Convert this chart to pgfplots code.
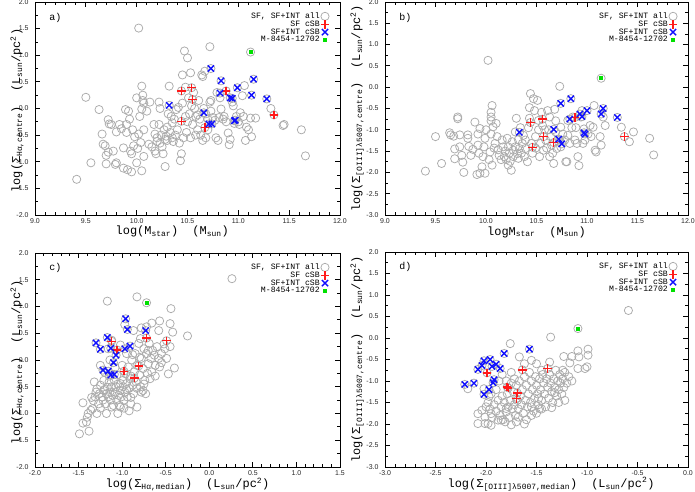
\documentclass[border=0pt]{standalone}
\usepackage{fontspec}
\setmainfont{Liberation Sans}
\setmonofont{Liberation Mono}
\usepackage{pgfplots}
\pgfplotsset{compat=1.18}
\definecolor{cgray}{HTML}{ABABAB}
\definecolor{cred}{HTML}{FF1A1A}
\definecolor{cblue}{HTML}{1010FF}
\definecolor{cgreen}{HTML}{00E000}

\newcommand{\sub}[1]{\textsubscript{#1}}
\newcommand{\lsun}{(L\sub{sun}/pc\textsuperscript{2})}

% marks that set their own colour each time they are drawn
\pgfdeclareplotmark{rplus}{%
  \pgfsetstrokecolor{cred}\pgfsetlinewidth{1.45bp}%
  \pgfpathmoveto{\pgfqpoint{-4.2bp}{0bp}}\pgfpathlineto{\pgfqpoint{4.2bp}{0bp}}%
  \pgfpathmoveto{\pgfqpoint{0bp}{-4.2bp}}\pgfpathlineto{\pgfqpoint{0bp}{4.2bp}}%
  \pgfusepathqstroke}
\pgfdeclareplotmark{bcross}{%
  \pgfsetstrokecolor{cblue}\pgfsetlinewidth{1.4bp}%
  \pgfpathmoveto{\pgfqpoint{-3.1bp}{-3.1bp}}\pgfpathlineto{\pgfqpoint{3.1bp}{3.1bp}}%
  \pgfpathmoveto{\pgfqpoint{-3.1bp}{3.1bp}}\pgfpathlineto{\pgfqpoint{3.1bp}{-3.1bp}}%
  \pgfusepathqstroke}
\pgfdeclareplotmark{gsq}{%
  \pgfsetfillcolor{cgreen}%
  \pgfpathrectangle{\pgfqpoint{-2bp}{-2bp}}{\pgfqpoint{4bp}{4bp}}%
  \pgfusepathqfill}
\pgfdeclareplotmark{gcirc}{%
  \pgfsetstrokecolor{cgray}\pgfsetlinewidth{0.75bp}%
  \pgfpathcircle{\pgfpointorigin}{4.1bp}%
  \pgfusepathqstroke}

\pgfplotsset{
  panel/.style={
    scale only axis,
    axis line style={line width=0.9bp},
    tick align=inside,
    major tick length=5bp,
    minor tick length=2.6bp,
    every tick/.style={black,line width=0.8bp},
    tick label style={font=\fontsize{7}{7}\selectfont,text=black!85},
    yticklabel style={xshift=-3bp},
    label style={font=\ttfamily\fontsize{12}{12}\selectfont},
    legend style={draw=none,fill=none,at={(rel axis cs:0.975,0.965)},anchor=north east,
      font=\ttfamily\fontsize{8.2}{8.2}\selectfont,row sep=-1.2bp,
      nodes={inner sep=1bp}},
    legend cell align=right,
    legend plot pos=right,
    legend image code/.code={\draw[##1] plot coordinates {(0.26cm,0cm)};},
  },
  allpts/.style={only marks,mark=gcirc,draw=cgray},
  redpts/.style={only marks,mark=rplus,draw=cred},
  bluepts/.style={only marks,mark=bcross,draw=cblue},
  greenpts/.style={only marks,mark=gsq,draw=cgreen,fill=cgreen},
}

% panel a: log Mstar vs log Sigma_Halpha,centre
\pgfplotstableread{
x y
9.41 -1.33
9.50 0.21
9.55 -1.02
9.63 -0.02
9.66 -0.48
9.67 -0.67
9.69 -0.70
9.70 -1.04
9.70 -0.88
9.72 -0.21
9.72 -0.82
9.73 -0.29
9.75 -0.30
9.77 -0.80
9.79 -1.05
9.80 -1.02
9.80 -0.44
9.83 -0.30
9.85 -0.38
9.87 -0.74
9.87 -1.12
9.89 -0.02
9.90 -0.30
9.90 -0.45
9.91 -1.15
9.92 -0.05
9.93 -0.20
9.94 -0.80
9.95 -1.19
9.95 -0.85
9.96 -0.40
9.97 -0.70
9.98 -0.53
10.00 0.20
10.00 -1.02
10.01 -0.75
10.02 1.51
10.02 -0.48
10.03 -0.15
10.04 -0.64
10.05 -1.17
10.05 0.42
10.05 -0.01
10.06 0.25
10.06 0.15
10.07 -0.40
10.07 0.10
10.07 -0.90
10.10 -0.05
10.12 -0.67
10.13 0.12
10.15 -0.72
10.17 -0.30
10.18 -0.80
10.18 -0.48
10.19 -0.85
10.20 -0.55
10.20 -0.62
10.22 -0.30
10.22 0.12
10.23 0.00
10.23 -0.65
10.24 -0.50
10.25 -0.72
10.26 -0.85
10.27 -0.40
10.28 -1.09
10.28 -0.58
10.29 -0.52
10.30 -0.60
10.30 -0.35
10.31 -0.10
10.32 0.42
10.33 -0.45
10.34 -0.15
10.35 -0.27
10.35 -0.55
10.36 -0.62
10.37 -0.20
10.38 -0.50
10.39 -0.02
10.40 -0.40
10.41 0.02
10.42 -0.65
10.43 -0.98
10.44 -0.85
10.45 0.63
10.45 0.10
10.46 -0.55
10.47 1.08
10.48 0.40
10.48 -0.15
10.49 -0.45
10.50 0.95
10.50 -0.25
10.51 0.20
10.52 -0.10
10.53 0.67
10.53 -0.55
10.54 0.05
10.55 -0.30
10.56 0.30
10.57 0.00
10.58 -0.50
10.58 -0.15
10.60 -0.12
10.60 -0.40
10.61 0.15
10.62 -0.20
10.63 -0.50
10.64 0.63
10.65 0.60
10.65 -0.60
10.66 0.00
10.67 0.70
10.68 -0.55
10.68 -0.10
10.70 -0.20
10.70 -0.40
10.72 1.16
10.72 0.12
10.73 -0.05
10.73 0.15
10.75 -0.17
10.77 -0.22
10.78 -0.55
10.79 0.30
10.80 -0.60
10.81 -0.17
10.82 0.20
10.83 -0.01
10.85 -0.20
10.86 -0.15
10.88 -0.25
10.90 -0.46
10.91 -0.68
10.92 -0.58
10.94 0.12
10.95 0.05
10.96 -0.28
10.98 -0.15
11.00 -0.25
11.01 -0.30
11.02 -0.08
11.04 0.24
11.05 -0.15
11.06 0.43
11.07 -0.60
11.08 -0.35
11.10 -0.40
11.12 -0.18
11.13 -0.53
11.17 -0.18
11.32 0.00
11.44 -0.32
11.45 -0.30
11.62 -0.40
11.66 -0.89
}\allA
\pgfplotstableread{
x y
10.44 0.33
10.44 -0.24
10.54 0.39
10.55 0.17
10.67 -0.36
10.88 0.33
11.35 -0.12
}\redA
\pgfplotstableread{
x y
10.32 0.06
10.66 -0.08
10.71 -0.29
10.74 -0.29
10.73 0.75
10.82 0.29
10.83 0.52
10.92 0.20
10.94 0.19
10.96 -0.23
10.97 -0.22
10.99 0.39
11.13 0.25
11.15 0.55
11.28 0.18
}\blueA
\pgfplotstableread{
x y
11.12 1.06
}\greenA

% panel b: log Mstar vs log Sigma_[OIII],centre
\pgfplotstableread{
x y
9.40 -1.97
9.50 -1.16
9.56 -1.79
9.64 -1.07
9.65 -1.12
9.68 -1.15
9.69 -1.45
9.69 -1.68
9.72 -0.74
9.72 -0.70
9.74 -1.12
9.74 -1.40
9.76 -1.60
9.77 -1.76
9.78 -2.00
9.82 -1.12
9.82 -1.20
9.83 -1.39
9.85 -1.60
9.87 -1.46
9.89 -0.82
9.91 -2.05
9.92 -1.10
9.92 -1.36
9.93 -1.55
9.94 -0.97
9.94 -2.02
9.96 -1.87
9.97 -1.63
9.98 -1.40
9.99 -1.20
9.99 -2.02
10.00 -1.00
10.02 0.63
10.03 -1.70
10.04 -1.52
10.05 -0.59
10.05 -0.70
10.05 -0.79
10.05 -1.10
10.06 -1.83
10.06 -0.43
10.07 -0.93
10.08 -1.43
10.09 -1.32
10.10 -0.85
10.11 -1.16
10.12 -1.47
10.13 -1.60
10.15 -1.70
10.16 -1.24
10.17 -1.40
10.18 -1.63
10.19 -1.50
10.20 -1.70
10.21 -1.20
10.22 -1.83
10.22 -1.40
10.23 -1.55
10.24 -1.74
10.25 -1.95
10.26 -1.28
10.27 -1.48
10.27 -1.63
10.29 -1.05
10.29 -1.40
10.30 -0.73
10.31 -1.56
10.32 -1.23
10.32 -1.67
10.33 -1.44
10.34 -0.95
10.35 -1.55
10.36 -1.32
10.37 -1.13
10.38 -1.63
10.39 -1.44
10.39 -1.24
10.41 -1.75
10.42 -0.95
10.43 -0.48
10.43 -0.73
10.44 -0.15
10.45 -1.32
10.46 -1.55
10.47 -0.27
10.48 -0.55
10.49 -1.16
10.49 -1.43
10.51 -0.31
10.52 -0.78
10.52 -1.00
10.53 -1.63
10.54 -1.32
10.55 -0.59
10.56 -0.90
10.57 -1.48
10.58 -1.00
10.59 -1.24
10.60 -1.43
10.61 -0.55
10.62 -1.00
10.63 -1.63
10.63 -0.70
10.64 -1.16
10.65 -1.36
10.66 -1.55
10.67 -1.79
10.68 -0.52
10.69 -0.79
10.69 -1.05
10.70 -1.44
10.73 0.02
10.73 -1.24
10.74 -1.40
10.74 -0.94
10.76 -1.10
10.78 -1.24
10.79 -1.75
10.80 -1.75
10.81 -0.78
10.81 -1.13
10.83 -1.32
10.85 -0.95
10.86 -0.70
10.88 -1.24
10.89 -0.95
10.90 -1.32
10.91 -1.63
10.92 -1.84
10.94 -0.70
10.95 -0.55
10.96 -1.32
10.97 -0.98
10.98 -1.24
11.01 -1.10
11.03 -0.90
11.04 -1.16
11.06 -0.94
11.07 -0.43
11.08 -1.48
11.09 -1.52
11.13 -1.16
11.14 -1.36
11.16 -0.70
11.18 -0.90
11.34 -0.94
11.42 -1.28
11.46 -1.05
11.62 -1.20
11.66 -1.59
}\allB
\pgfplotstableread{
x y
10.44 -0.83
10.46 -1.41
10.56 -0.75
10.57 -1.16
10.67 -1.30
10.88 -0.71
11.37 -1.16
}\redB
\pgfplotstableread{
x y
10.33 -1.06
10.67 -0.99
10.72 -1.22
10.75 -1.33
10.74 -0.38
10.83 -0.75
10.84 -0.27
10.93 -0.63
10.95 -0.69
10.97 -1.07
10.98 -1.10
11.00 -0.55
11.14 -0.63
11.16 -0.50
11.30 -0.71
}\blueB
\pgfplotstableread{
x y
11.14 0.21
}\greenB

% panel c: log Sigma_Halpha,median vs log Sigma_Halpha,centre
\pgfplotstableread{
x y
-1.49 -1.38
-1.38 -1.33
-1.45 -1.18
-1.41 -1.16
-1.40 -1.07
-1.45 -0.80
-1.39 -1.00
-1.36 -0.94
-1.34 -0.91
-1.29 -1.00
-1.33 -0.76
-1.31 -0.69
-1.27 -0.82
-1.32 -0.41
-1.29 -0.54
-1.26 -0.63
-1.25 -0.47
-1.23 -0.69
-1.22 -0.75
-1.21 -0.57
-1.21 -0.38
-1.19 -0.82
-1.18 -0.63
-1.17 -0.51
-1.16 -0.69
-1.15 -0.41
-1.14 -0.60
-1.13 -0.75
-1.12 -0.50
-1.11 -0.66
-1.10 -0.85
-1.09 -0.38
-1.08 -0.60
-1.07 -0.50
-1.06 -0.75
-1.06 -0.28
-1.04 -0.66
-1.03 -0.85
-1.02 -0.44
-1.02 -0.57
-1.01 -0.69
-0.99 -0.38
-0.99 -0.50
-0.98 -0.75
-0.97 -0.60
-0.96 -0.26
-0.95 -0.44
-0.94 -0.69
-0.93 -0.13
-0.92 -0.53
-0.91 -0.35
-0.90 -0.82
-0.89 0.00
-0.88 -0.47
-0.87 -0.63
-0.86 -0.22
-0.85 0.12
-0.84 -0.41
-0.83 -0.53
-0.83 -0.10
-0.81 0.31
-0.80 -0.28
-0.79 0.40
-0.79 -0.50
-0.78 0.03
-0.76 -0.57
-0.76 -0.16
-0.75 0.21
-0.74 -0.38
-0.73 -0.63
-0.72 0.12
-0.71 -0.25
-0.70 -0.07
-0.69 0.31
-0.67 0.03
-0.66 -0.22
-0.65 0.18
-0.63 0.09
-0.62 -0.10
-0.60 0.25
-0.58 0.03
-0.57 -0.13
-0.55 0.12
-0.51 0.21
-0.49 0.03
-0.47 -0.26
-0.45 0.25
-0.40 -0.15
-0.45 0.68
-0.44 0.96
-0.57 0.73
-0.66 0.69
-0.72 0.62
-0.78 0.60
-0.83 1.18
-1.17 1.10
-0.25 0.45
0.26 1.52
-1.25 -0.10
-1.12 0.37
-1.16 0.21
-1.02 0.28
-0.97 0.66
-0.87 0.55
-0.95 0.12
-1.14 0.00
-1.08 -0.14
-1.20 -0.23
-0.78 -0.60
-0.83 -0.88
-1.02 -0.88
-1.12 -0.88
-1.20 -0.55
-1.15 -0.30
-1.05 -0.45
-0.95 -0.55
-0.90 -0.30
-1.00 -0.10
-0.88 0.10
-0.90 -0.70
-1.30 -0.60
-1.35 -0.70
-1.25 -0.90
-1.18 -1.00
-1.05 -1.00
-0.92 -0.95
-0.98 -0.90
-0.75 -0.45
-0.62 -0.30
-0.55 -0.05
-0.68 -0.35
-0.80 0.05
-0.70 0.18
-0.52 0.30
-0.42 0.52
-0.58 0.55
}\allC
\pgfplotstableread{
x y
-1.12 0.35
-1.06 0.19
-0.98 -0.21
-0.86 -0.34
-0.81 -0.11
-0.72 0.41
-0.49 0.36
}\redC
\pgfplotstableread{
x y
-1.30 0.32
-1.25 0.20
-1.17 0.42
-1.13 0.22
-1.07 0.09
-1.10 -0.05
-1.22 -0.19
-1.16 -0.21
-1.13 -0.28
-1.09 -0.27
-0.96 0.77
-0.94 0.57
-0.97 0.21
-0.91 0.26
-0.73 0.55
}\blueC
\pgfplotstableread{
x y
-0.72 1.07
}\greenC

% panel d: log Sigma_[OIII],median vs log Sigma_[OIII],centre
\pgfplotstableread{
x y
-0.59 0.64
-1.36 0.02
-1.76 -0.13
-1.67 -0.44
-1.55 -0.52
-1.23 -0.43
-1.15 -0.43
-1.09 -0.30
-0.99 -0.26
-0.99 -0.40
-1.08 -0.44
-1.17 -0.58
-1.09 -0.71
-1.02 -0.71
-1.00 -0.67
-1.24 -0.75
-1.37 -0.56
-2.02 -1.18
-1.97 -1.36
-2.08 -1.76
-2.08 -1.99
-2.01 -1.99
-1.95 -2.03
-2.01 -1.84
-1.95 -1.76
-1.88 -1.91
-1.81 -1.95
-1.68 -1.84
-2.04 -1.68
-1.92 -1.55
-1.90 -1.70
-1.88 -1.45
-1.86 -1.80
-1.85 -1.60
-1.84 -1.35
-1.83 -1.90
-1.82 -1.50
-1.80 -1.72
-1.79 -1.30
-1.78 -1.60
-1.77 -1.85
-1.76 -1.45
-1.75 -1.05
-1.74 -1.65
-1.73 -1.25
-1.72 -1.55
-1.71 -1.80
-1.70 -1.10
-1.69 -1.45
-1.68 -1.65
-1.67 -1.00
-1.66 -1.35
-1.65 -1.55
-1.64 -1.20
-1.63 -1.75
-1.62 -0.90
-1.61 -1.45
-1.60 -1.10
-1.59 -1.60
-1.58 -1.30
-1.57 -0.80
-1.56 -1.50
-1.55 -1.00
-1.54 -1.20
-1.53 -1.70
-1.52 -1.40
-1.51 -0.90
-1.50 -1.10
-1.49 -1.30
-1.48 -1.55
-1.47 -0.95
-1.46 -1.20
-1.45 -1.45
-1.44 -0.85
-1.43 -1.05
-1.42 -1.30
-1.41 -1.60
-1.40 -0.95
-1.39 -1.15
-1.38 -1.40
-1.37 -0.85
-1.36 -1.05
-1.35 -1.25
-1.34 -1.50
-1.33 -0.95
-1.32 -1.15
-1.31 -0.75
-1.30 -1.35
-1.29 -1.00
-1.28 -1.20
-1.27 -0.85
-1.26 -1.05
-1.25 -1.30
-1.24 -0.95
-1.23 -1.15
-1.22 -0.80
-1.20 -1.05
-1.18 -0.90
-1.15 -1.00
-1.22 -1.45
-1.95 -1.30
-1.98 -1.50
-1.96 -1.65
-2.00 -1.60
-1.94 -1.85
-1.90 -1.20
-1.87 -1.00
-1.84 -0.85
-1.80 -1.00
-1.75 -0.80
-1.72 -0.95
-1.60 -1.90
-1.55 -1.80
-1.50 -1.75
-1.45 -1.65
-1.62 -2.00
-1.75 -2.02
-1.70 -1.95
-1.35 -1.62
-1.28 -1.50
-1.45 -0.75
-1.50 -0.60
-1.62 -0.60
-1.32 -1.27
-1.48 -1.41
-1.47 -1.64
-1.55 -1.60
-1.80 -1.64
-1.85 -1.91
-1.98 -1.99
-2.18 -1.18
}\allD
\pgfplotstableread{
x y
-1.99 -0.81
-1.79 -1.14
-1.78 -1.16
-1.69 -1.28
-1.70 -1.41
-1.64 -0.74
-1.39 -0.71
}\redD
\pgfplotstableread{
x y
-2.21 -1.08
-2.12 -1.05
-2.08 -0.73
-2.04 -0.64
-2.02 -0.53
-1.96 -0.50
-2.02 -1.31
-1.97 -1.20
-1.94 -0.66
-1.90 -0.61
-1.86 -0.71
-1.93 -1.04
-1.92 -0.97
-1.82 -0.36
-1.57 -0.26
}\blueD
\pgfplotstableread{
x y
-1.09 0.22
}\greenD

% gray circles for every galaxy, then the subsamples on top
\newcommand{\panelplots}[4]{%
  \addplot[allpts] table {#1};
  \addplot[allpts,forget plot] table {#2};
  \addplot[allpts,forget plot] table {#3};
  \addplot[allpts,forget plot] table {#4};
  \addplot[redpts] table {#2};
  \addplot[bluepts] table {#3};
  \addplot[greenpts] table {#4};
  \legend{{SF, SF+INT all},SF cSB,SF+INT cSB,M-8454-12702}
}

\begin{document}
\begin{tikzpicture}[x=1bp,y=1bp]
\useasboundingbox (0,0) rectangle (695,492);

% a)
\begin{axis}[panel,at={(35bp,277bp)},anchor=south west,width=305bp,height=213bp,
  xmin=9,xmax=12,ymin=-2,ymax=2,
  xtick={9,9.5,...,12},xticklabels={9.0,9.5,10.0,10.5,11.0,11.5,12.0},minor x tick num=4,
  ytick={-2,-1.5,...,2},yticklabels={-2.0,-1.5,-1.0,-0.5,0.0,0.5,1.0,1.5,2.0},minor y tick num=1,
  xlabel={log(M\sub{star})\hspace{14bp}(M\sub{sun})},
  ylabel={log(Σ\sub{Hα,centre})\hspace{14bp}\lsun},
  xlabel style={at={(axis description cs:0.45,-0.078)},anchor=center},
  ylabel style={at={(axis description cs:-0.059,0.49)},anchor=center}]
\panelplots{\allA}{\redA}{\blueA}{\greenA}
\node[font=\ttfamily\fontsize{10}{10}\selectfont] at (rel axis cs:0.067,0.925) {a)};
\end{axis}

% b)
\begin{axis}[panel,at={(385bp,277bp)},anchor=south west,width=303bp,height=213bp,
  xmin=9,xmax=12,ymin=-3,ymax=2,
  xtick={9,9.5,...,12},xticklabels={9.0,9.5,10.0,10.5,11.0,11.5,12.0},minor x tick num=4,
  ytick={-3,-2.5,...,2},yticklabels={-3.0,-2.5,-2.0,-1.5,-1.0,-0.5,0.0,0.5,1.0,1.5,2.0},minor y tick num=1,
  xlabel={logM\sub{star}\hspace{14bp}(M\sub{sun})},
  ylabel={log(Σ\sub{[OIII]λ5007,centre})\hspace{14bp}\lsun},
  xlabel style={at={(axis description cs:0.5,-0.08)},anchor=center},
  ylabel style={at={(axis description cs:-0.092,0.5)},anchor=center}]
\panelplots{\allB}{\redB}{\blueB}{\greenB}
\node[font=\ttfamily\fontsize{10}{10}\selectfont] at (rel axis cs:0.067,0.925) {b)};
\end{axis}

% c)
\begin{axis}[panel,at={(35bp,25bp)},anchor=south west,width=305bp,height=214bp,
  xmin=-2,xmax=1.5,ymin=-2,ymax=2,
  xtick={-2,-1.5,...,1.5},xticklabels={-2.0,-1.5,-1.0,-0.5,0.0,0.5,1.0,1.5},minor x tick num=4,
  ytick={-2,-1.5,...,2},yticklabels={-2.0,-1.5,-1.0,-0.5,0.0,0.5,1.0,1.5,2.0},minor y tick num=1,
  xlabel={log(Σ\sub{Hα,median})\hspace{14bp}\lsun},
  ylabel={log(Σ\sub{Hα,centre})\hspace{14bp}\lsun},
  xlabel style={at={(axis description cs:0.5,-0.082)},anchor=center},
  ylabel style={at={(axis description cs:-0.059,0.49)},anchor=center}]
\panelplots{\allC}{\redC}{\blueC}{\greenC}
\node[font=\ttfamily\fontsize{10}{10}\selectfont] at (rel axis cs:0.067,0.93) {c)};
\end{axis}

% d)
\begin{axis}[panel,at={(385bp,25bp)},anchor=south west,width=303bp,height=215bp,
  xmin=-3,xmax=0,ymin=-3,ymax=2,
  xtick={-3,-2.5,...,0},xticklabels={-3.0,-2.5,-2.0,-1.5,-1.0,-0.5,0.0},minor x tick num=4,
  ytick={-3,-2.5,...,2},yticklabels={-3.0,-2.5,-2.0,-1.5,-1.0,-0.5,0.0,0.5,1.0,1.5,2.0},minor y tick num=1,
  xlabel={log(Σ\sub{[OIII]λ5007,median})\hspace{14bp}\lsun},
  ylabel={log(Σ\sub{[OIII]λ5007,centre})\hspace{14bp}\lsun},
  xlabel style={at={(axis description cs:0.548,-0.08)},anchor=center},
  ylabel style={at={(axis description cs:-0.092,0.5)},anchor=center}]
\panelplots{\allD}{\redD}{\blueD}{\greenD}
\node[font=\ttfamily\fontsize{10}{10}\selectfont] at (rel axis cs:0.067,0.93) {d)};
\end{axis}
\end{tikzpicture}
\end{document}
